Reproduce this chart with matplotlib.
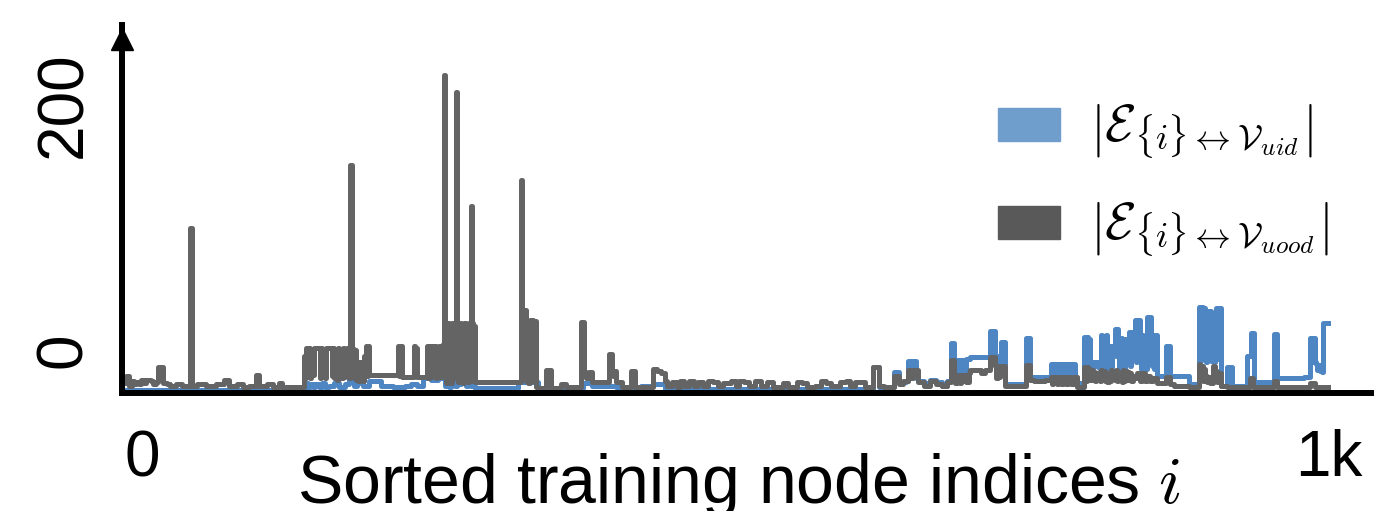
import matplotlib
matplotlib.use("Agg")
import matplotlib.pyplot as plt
from matplotlib.patches import Patch

plt.rcParams['font.family'] = ['Liberation Sans', 'DejaVu Sans']
plt.rcParams['mathtext.fontset'] = 'cm'

# |E_{i}<->V_uood|, as (start index, value) steps
ood_steps = [
    (0, 8), (3, 14), (6, 6), (8, 10), (10, 7), (12, 9), (14, 7), (16, 11), (18, 8), (20, 11),
    (24, 10), (26, 7), (28, 9), (30, 21), (34, 8), (37, 7), (40, 6), (45, 7), (50, 6), (56, 135),
    (58, 6), (62, 7), (70, 6), (78, 7), (85, 11), (89, 6), (95, 7), (100, 5), (105, 6), (111, 15),
    (114, 6), (120, 7), (125, 5), (130, 8), (133, 5), (145, 5),
    (151, 30), (152, 12), (153, 37), (154, 14), (155, 37), (156, 12), (157, 36), (158, 15), (159, 37),
    (164, 12), (165, 37), (166, 13), (167, 36), (168, 12), (169, 37), (174, 14), (175, 37), (176, 12),
    (177, 36), (178, 11), (179, 37), (180, 15), (181, 36), (182, 12), (183, 37), (184, 13), (185, 36),
    (186, 14), (187, 37), (188, 12), (189, 186), (191, 36), (192, 12), (193, 35), (194, 11), (195, 25),
    (196, 10), (197, 25), (198, 12), (199, 22), (200, 10), (201, 30), (202, 38), (203, 14), (204, 38),
    (205, 15), (229, 38), (230, 14), (231, 38), (232, 13), (242, 38), (243, 14), (244, 37), (245, 13),
    (253, 38), (254, 12), (255, 38), (256, 13), (257, 38), (258, 14), (259, 38), (260, 12), (261, 37),
    (262, 15), (263, 38), (264, 13), (265, 38),
    (266, 40), (267, 260), (268, 42), (269, 8), (270, 57), (271, 10), (272, 56), (273, 8), (274, 57),
    (275, 12), (276, 57), (277, 246), (278, 50), (279, 9), (280, 57), (281, 10), (282, 56), (283, 8),
    (284, 57), (285, 11), (286, 56), (287, 9), (288, 57), (289, 153), (290, 57), (291, 10), (292, 55),
    (293, 9),
    (331, 174), (332, 68), (333, 12), (334, 68), (335, 10), (336, 20), (337, 8), (338, 60), (339, 12),
    (340, 60), (341, 10), (342, 59), (343, 5), (345, 4), (352, 19), (356, 4), (364, 7), (368, 5),
    (381, 58), (383, 17), (385, 12), (387, 17), (390, 9), (404, 32), (406, 18), (407, 14), (408, 18),
    (410, 9), (415, 5), (422, 18), (425, 5), (440, 20), (444, 18), (447, 16), (450, 10), (452, 6),
    (456, 9), (460, 5), (463, 10), (466, 6), (470, 10), (474, 6), (478, 9), (482, 6), (486, 10),
    (490, 9), (494, 6), (498, 8), (505, 10), (509, 6), (512, 10), (516, 9), (520, 6), (525, 10),
    (530, 6), (535, 9), (540, 5), (548, 8), (552, 5), (560, 9), (564, 8), (568, 5), (575, 6),
    (580, 10), (584, 8), (588, 6), (595, 9), (600, 10), (604, 6), (608, 9), (612, 9), (616, 5),
    (623, 21), (628, 6), (632, 5), (640, 14), (644, 7), (648, 10), (652, 19), (654, 12), (656, 19),
    (660, 9), (665, 6), (670, 10), (675, 7), (680, 6), (684, 9), (687, 27), (690, 15), (691, 8),
    (692, 15), (693, 9), (694, 15), (695, 8), (696, 15), (697, 10), (698, 15), (700, 9), (702, 16),
    (703, 19), (712, 16), (716, 19), (720, 29), (724, 22), (725, 12), (726, 22), (727, 13), (728, 22),
    (732, 6), (750, 23), (753, 11), (756, 10), (765, 11), (770, 13), (771, 7), (772, 13), (773, 8),
    (774, 13), (775, 7), (776, 13), (777, 8), (778, 13), (779, 7), (780, 13), (781, 8), (782, 13),
    (783, 7), (784, 13), (785, 8), (786, 13), (787, 7), (789, 13), (792, 5),
    (798, 21), (799, 10), (800, 21), (801, 12), (802, 20), (803, 11), (804, 19), (805, 12), (806, 17),
    (807, 10), (808, 16), (809, 12), (810, 17), (811, 10), (812, 19), (813, 11), (814, 18), (815, 10),
    (816, 14), (817, 9), (818, 16), (819, 10), (820, 19), (821, 12), (822, 18), (823, 11), (824, 19),
    (825, 10), (826, 17), (827, 11), (828, 16), (829, 9), (830, 19), (831, 10), (832, 18), (833, 11),
    (834, 17), (835, 12), (836, 16), (837, 10), (838, 14), (840, 12), (842, 16), (844, 10), (846, 16),
    (848, 10), (850, 14), (852, 10), (855, 12), (858, 8), (866, 13), (869, 7), (872, 6), (885, 5),
    (893, 24), (894, 12), (895, 22), (896, 10), (897, 20), (898, 11), (899, 14), (900, 9), (901, 13),
    (902, 8), (903, 12), (904, 8), (905, 22), (906, 10), (907, 18), (908, 9), (909, 16), (911, 6),
    (916, 5), (935, 12), (938, 5), (955, 10), (958, 5), (985, 8), (989, 5), (1000, 5),
]

# |E_{i}<->V_uid|
id_steps = [
    (0, 2.5), (150, 4), (152, 5), (153, 8), (154, 5), (156, 7), (158, 5), (160, 7), (163, 5), (166, 8),
    (168, 5), (172, 6), (176, 8), (180, 5), (185, 7), (188, 13), (190, 9), (192, 6), (195, 8), (200, 6),
    (205, 10), (215, 6), (225, 5), (235, 6), (240, 7), (245, 6), (250, 12), (256, 11), (262, 12),
    (266, 16), (267, 17), (268, 6), (270, 10), (271, 5), (273, 12), (275, 15), (276, 6), (278, 13),
    (279, 7), (281, 12), (283, 12), (285, 6), (287, 10), (289, 6), (293, 4), (328, 9), (345, 4),
    (382, 8), (390, 6), (410, 5), (430, 6), (440, 7), (450, 3),
    (623, 21), (628, 5), (640, 17), (644, 9), (650, 10), (652, 26), (653, 18), (654, 26), (655, 20),
    (656, 26), (658, 12), (660, 10), (665, 8), (670, 11), (675, 9), (680, 6), (684, 10), (687, 41),
    (690, 27), (691, 14), (692, 27), (693, 15), (694, 27), (695, 14), (696, 27), (697, 15), (698, 27),
    (699, 16), (700, 28), (703, 29), (720, 51), (724, 30), (725, 20), (726, 30), (727, 21), (728, 30),
    (729, 42), (732, 7), (750, 45), (753, 13),
    (770, 24), (771, 14), (772, 24), (773, 13), (774, 24), (775, 14), (776, 24), (777, 13), (778, 24),
    (779, 14), (780, 24), (781, 13), (782, 24), (783, 14), (784, 24), (785, 13), (786, 24), (787, 14),
    (788, 24), (790, 13), (792, 8),
    (798, 46), (799, 22), (800, 46), (801, 21), (802, 44), (803, 25), (804, 25), (805, 21), (806, 25),
    (807, 22), (808, 25), (809, 21), (810, 25), (812, 47), (813, 22), (814, 46), (815, 20), (816, 47),
    (817, 38), (818, 20), (819, 38), (820, 21), (821, 38), (823, 52), (824, 30), (825, 52), (826, 36),
    (827, 20), (828, 45), (829, 22), (830, 40), (831, 20), (832, 44), (833, 24), (835, 50), (836, 22),
    (837, 50), (838, 30), (840, 60), (841, 25), (842, 60), (844, 40), (845, 20), (846, 47), (847, 22),
    (848, 43), (849, 20), (850, 62), (851, 24), (852, 62), (853, 44), (854, 22), (855, 47), (856, 20),
    (857, 47), (858, 14), (866, 38), (867, 14), (868, 38), (869, 14), (885, 7),
    (893, 70), (894, 26), (895, 70), (896, 28), (897, 69), (898, 67), (899, 25), (900, 67), (901, 30),
    (902, 67), (903, 26), (904, 40), (905, 25), (906, 50), (907, 69), (908, 28), (909, 69), (911, 6),
    (916, 21), (920, 6), (933, 30), (936, 49), (939, 9), (955, 48), (958, 12), (970, 12.5), (980, 13),
    (985, 45), (987, 25), (988, 45), (989, 25), (990, 24), (991, 19), (992, 23), (993, 18), (994, 21),
    (995, 17), (996, 57), (1000, 57),
]

ood_x, ood_y = zip(*ood_steps)
id_x, id_y = zip(*id_steps)

x_ticks = [17, 1001]
x_labels = ['0', '1k']
y_ticks = [35, 235]
y_labels = ['0', '200']

blue = '#4d86c2'
gray = '#646464'

fig = plt.figure(figsize=(13.75, 5.11), dpi=100)
ax = fig.add_axes([0.0887, 0.2309, 0.9087, 0.7192])

ax.plot(id_x, id_y, drawstyle='steps-post', color=blue, lw=3.6)
ax.plot(ood_x, ood_y, drawstyle='steps-post', color=gray, lw=3.6)

ax.set_xlim(0, 1036)
ax.set_ylim(0, 300)

for s in ['top', 'right']:
    ax.spines[s].set_visible(False)
for s in ['left', 'bottom']:
    ax.spines[s].set_linewidth(4.3)
    ax.spines[s].set_capstyle('projecting')
# arrow head on the y axis
ax.plot([0], [0.962], marker='^', color='k', markersize=16, transform=ax.transAxes, clip_on=False)

ax.set_xticks(x_ticks)
ax.set_xticklabels(x_labels, fontsize=46)
ax.set_yticks(y_ticks)
ax.set_yticklabels(y_labels, fontsize=46, rotation=90, va='center')
ax.tick_params(length=0)
ax.tick_params(axis='x', pad=26)
ax.tick_params(axis='y', pad=20)

ax.set_xlabel('Sorted training node indices $i$', fontsize=49)
ax.xaxis.set_label_coords(0.494, -0.157)

handles = [Patch(color='#6f9dcc'), Patch(color='#595959')]
labels = [r'$\left|\mathcal{E}_{\{i\}\leftrightarrow\mathcal{V}_{uid}}\right|$',
          r'$\left|\mathcal{E}_{\{i\}\leftrightarrow\mathcal{V}_{uood}}\right|$']
ax.legend(handles, labels, loc='upper left', bbox_to_anchor=(0.701, 0.79), frameon=False,
          fontsize=37, handlelength=1.2, handleheight=0.6, labelspacing=0.75, handletextpad=0.6,
          borderpad=0, borderaxespad=0)

fig.savefig('out.png', dpi=100)
